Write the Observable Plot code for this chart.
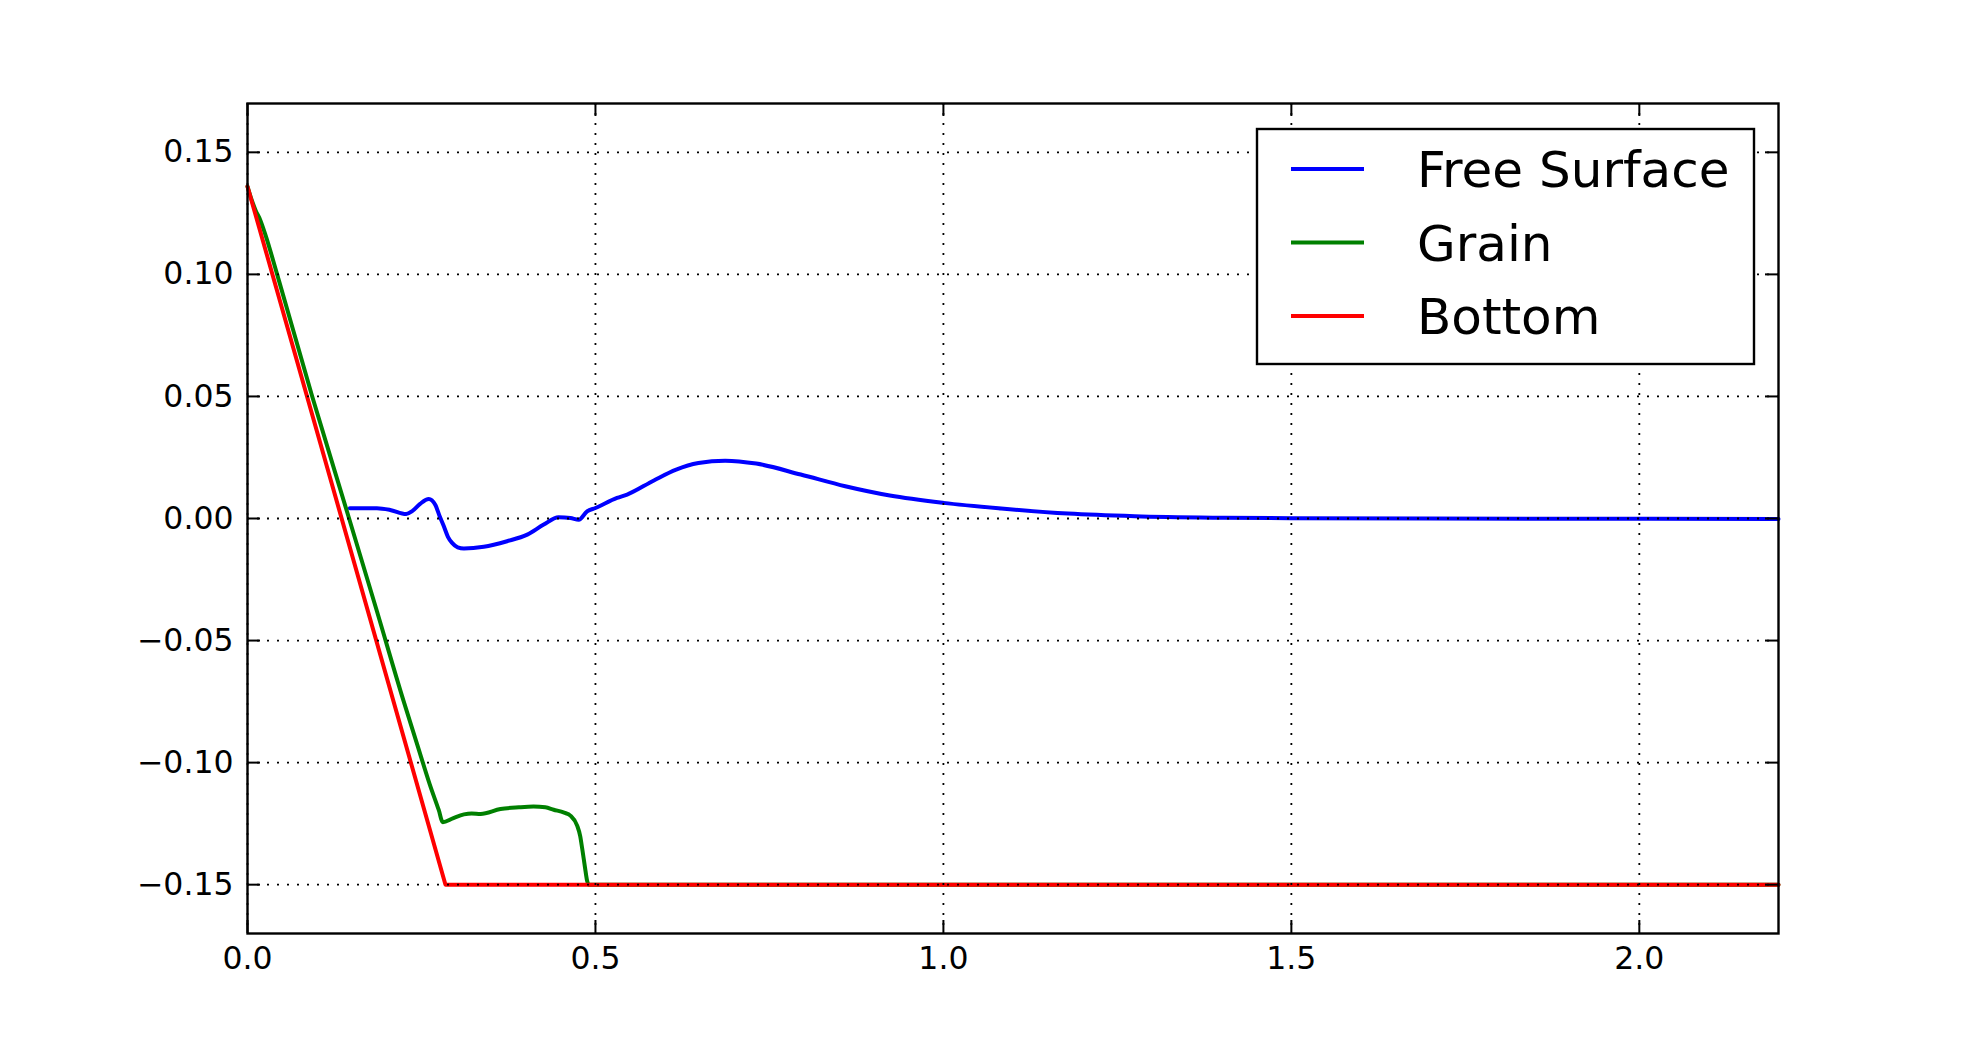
<!DOCTYPE html>
<html>
<head>
<meta charset="utf-8">
<script src="https://cdn.jsdelivr.net/npm/d3@7"></script>
<script src="https://cdn.jsdelivr.net/npm/@observablehq/plot@0.6"></script>
<style>
  html, body { margin: 0; padding: 0; background: #fff; }
  #wrap { position: relative; width: 1978px; height: 1038px; }
  #legend { position: absolute; left: 0; top: 0; }
</style>
</head>
<body>
<div id="wrap"></div>
<script>
// ---- data ----
const seriesNames = ["Free Surface", "Grain", "Bottom"];
const seriesColors = ["#0000ff", "#008000", "#ff0000"];

const freeX = [0.147,0.186,0.205,0.228,0.2366,0.248,0.2605,0.270,0.276,0.282,0.288,0.294,0.302,0.311,0.3395,0.373,0.402,0.4257,0.447,0.464,0.476,0.488,0.500,0.531,0.5455,0.584,0.616,0.648,0.6864,0.731,0.795,0.859,0.923,1.000,1.083,1.179,1.275,1.403,1.5,1.7,1.9,2.2];
const freeY = [0.0042,0.0042,0.0035,0.0018,0.0030,0.0060,0.0080,0.0055,0.0010,-0.0031,-0.0075,-0.0100,-0.0118,-0.0123,-0.0116,-0.0093,-0.0066,-0.0025,0.0005,0.0002,-0.0005,0.0029,0.0043,0.0084,0.0098,0.0156,0.0200,0.0227,0.0237,0.0225,0.0180,0.0132,0.0094,0.0064,0.0041,0.0020,0.0009,0.0003,0.0001,0.0,-0.0001,-0.0002];

const grainX = [0,0.006,0.012,0.018,0.026,0.0426,0.093,0.146,0.186,0.224,0.2438,0.262,0.2749,0.2806,0.295,0.311,0.322,0.335,0.3635,0.39,0.411,0.428,0.44,0.455,0.464,0.4737,0.478,0.481,0.485,0.488,0.49,2.2];
const grainY = [0.136,0.1305,0.126,0.1225,0.116,0.100,0.050,0.000,-0.038,-0.0745,-0.0925,-0.109,-0.1195,-0.1244,-0.1228,-0.1212,-0.1208,-0.121,-0.119,-0.1183,-0.118,-0.1183,-0.1193,-0.1205,-0.1217,-0.1258,-0.130,-0.1353,-0.143,-0.1484,-0.15,-0.15];

const bottomX = [0, 0.2845, 2.2];
const bottomY = [0.136, -0.15, -0.15];

const xTicks = [0.0, 0.5, 1.0, 1.5, 2.0];
const yTicks = [-0.15, -0.10, -0.05, 0.00, 0.05, 0.10, 0.15];

// ---- build ----
const W = 1978, H = 1038;
const mL = 247, mR = 200, mT = 103, mB = 105;
const frameH = H - mT - mB, frameW = W - mL - mR;
const tickLen = 13;

const toRows = (xs, ys) => xs.map((x, i) => ({x, y: ys[i]}));
const free = toRows(freeX, freeY);
const grain = toRows(grainX, grainY);
const bottom = toRows(bottomX, bottomY);

const chart = Plot.plot({
  width: W, height: H,
  marginLeft: mL, marginRight: mR, marginTop: mT, marginBottom: mB,
  style: {fontFamily: "DejaVu Sans", fontSize: "31.5px", background: "white", color: "black"},
  x: {domain: [0, 2.2], ticks: xTicks, tickFormat: d3.format(".1f"), tickSize: 0, tickPadding: 13, label: null},
  y: {domain: [-0.17, 0.17], ticks: yTicks, tickFormat: d3.format(".2f"), tickSize: 0, tickPadding: 14, label: null},
  marks: [
    Plot.line(free, {x: "x", y: "y", stroke: seriesColors[0], strokeWidth: 4, curve: "monotone-x"}),
    Plot.line(grain, {x: "x", y: "y", stroke: seriesColors[1], strokeWidth: 4, curve: "monotone-x"}),
    Plot.line(bottom, {x: "x", y: "y", stroke: seriesColors[2], strokeWidth: 4}),
    // grid (drawn above the lines, as in the reference)
    Plot.ruleX(xTicks, {x: d => d, stroke: "black", strokeWidth: 1.8, strokeDasharray: "2,8"}),
    Plot.ruleY(yTicks, {y: d => d, stroke: "black", strokeWidth: 1.8, strokeDasharray: "2,8"}),
    // inward ticks on all four sides
    Plot.ruleX(xTicks, {x: d => d, stroke: "black", strokeWidth: 2, insetTop: frameH - tickLen}),
    Plot.ruleX(xTicks, {x: d => d, stroke: "black", strokeWidth: 2, insetBottom: frameH - tickLen}),
    Plot.ruleY(yTicks, {y: d => d, stroke: "black", strokeWidth: 2, insetRight: frameW - tickLen}),
    Plot.ruleY(yTicks, {y: d => d, stroke: "black", strokeWidth: 2, insetLeft: frameW - tickLen}),
    Plot.frame({stroke: "black", strokeWidth: 2.4})
  ]
});
const wrap = document.getElementById("wrap");
wrap.appendChild(chart);

// ---- legend overlay ----
const lg = d3.select(wrap).append("svg")
  .attr("id", "legend").attr("width", W).attr("height", H)
  .style("pointer-events", "none");
const box = {x: 1257, y: 129, w: 497, h: 235};
lg.append("rect").attr("x", box.x).attr("y", box.y).attr("width", box.w).attr("height", box.h)
  .attr("fill", "white").attr("stroke", "black").attr("stroke-width", 2.4);
const rowY = [169, 242.5, 316];
seriesNames.forEach((name, i) => {
  lg.append("line").attr("x1", 1291).attr("x2", 1364).attr("y1", rowY[i]).attr("y2", rowY[i])
    .attr("stroke", seriesColors[i]).attr("stroke-width", 4);
  lg.append("text").attr("x", 1417).attr("y", rowY[i] + 18.3)
    .attr("font-family", "DejaVu Sans").attr("font-size", "50px").attr("fill", "black")
    .text(name);
});
</script>
</body>
</html>
